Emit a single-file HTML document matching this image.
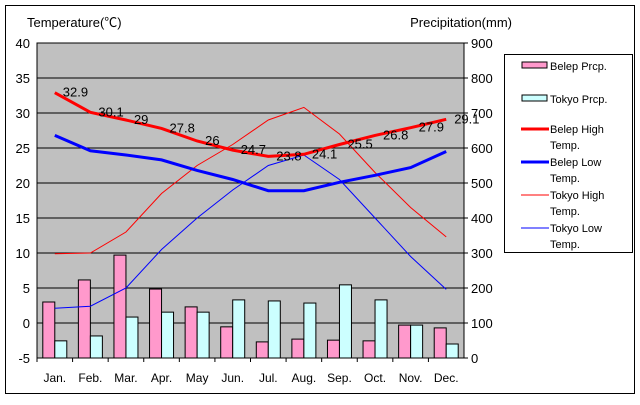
<!DOCTYPE html>
<html><head><meta charset="utf-8"><style>
body{margin:0;background:#fff;}
svg text{font-family:"Liberation Sans","Noto Sans CJK JP",sans-serif;}
</style></head><body>
<svg width="640" height="400" xmlns="http://www.w3.org/2000/svg" id="chart">
<rect x="5.5" y="5.5" width="629" height="388" fill="#fff" stroke="#000"/>
<rect x="37" y="43" width="427" height="315" fill="#c0c0c0" stroke="#000"/>
<text x="27" y="27" font-size="13">Temperature(℃)</text>
<text x="512" y="27" font-size="13" text-anchor="end">Precipitation(mm)</text>
<g id="grid"></g><g id="bars"></g><g id="lines"></g><g id="labels"></g><g id="axes"></g>
<g>
<rect x="504.5" y="54.5" width="128" height="198" fill="#fff" stroke="#000"/>
<rect x="522" y="62" width="25" height="6" fill="#ff99cc" stroke="#000"/>
<text x="550" y="70" font-size="11">Belep Prcp.</text>
<rect x="522" y="95" width="25" height="6" fill="#ccffff" stroke="#000"/>
<text x="550" y="103" font-size="11">Tokyo Prcp.</text>
<line x1="521" y1="129" x2="549" y2="129" stroke="#ff0000" stroke-width="3"/>
<text x="550" y="133" font-size="11"><tspan x="550">Belep High</tspan><tspan x="550" dy="16">Temp.</tspan></text>
<line x1="521" y1="162" x2="549" y2="162" stroke="#0000ff" stroke-width="3"/>
<text x="550" y="166" font-size="11"><tspan x="550">Belep Low</tspan><tspan x="550" dy="16">Temp.</tspan></text>
<line x1="521" y1="195" x2="549" y2="195" stroke="#ff0000" stroke-width="1"/>
<text x="550" y="199" font-size="11"><tspan x="550">Tokyo High</tspan><tspan x="550" dy="16">Temp.</tspan></text>
<line x1="521" y1="228" x2="549" y2="228" stroke="#0000ff" stroke-width="1"/>
<text x="550" y="232" font-size="11"><tspan x="550">Tokyo Low</tspan><tspan x="550" dy="16">Temp.</tspan></text>
</g>
</svg>
<script>
const months=["Jan.","Feb.","Mar.","Apr.","May","Jun.","Jul.","Aug.","Sep.","Oct.","Nov.","Dec."];
const tempTicks=[40,35,30,25,20,15,10,5,0,-5];
const precTicks=[900,800,700,600,500,400,300,200,100,0];
const belepHigh=[32.9,30.1,29,27.8,26,24.7,23.8,24.1,25.5,26.8,27.9,29.1];
const belepLow=[26.8,24.6,24.0,23.3,21.8,20.5,18.9,18.9,20.1,21.1,22.2,24.5];
const tokyoHigh=[9.9,10.0,13.0,18.5,22.5,25.5,29.0,30.8,27.0,21.5,16.5,12.3];
const tokyoLow=[2.1,2.4,5.0,10.5,15.0,19.0,22.5,24.0,20.5,15.0,9.5,4.8];
const belepPrcp=[160,223,294,197,146,89,46,54,51,49,94,86];
const tokyoPrcp=[49,63,117,131,131,166,163,157,209,166,94,40];
const NS="http://www.w3.org/2000/svg";
const X0=37,X1=464,Y0=43,Y1=358,bw=(X1-X0)/12;
const yT=v=>Y1-(v+5)/45*(Y1-Y0);
const yP=v=>Y1-v/900*(Y1-Y0);
const xC=i=>X0+bw*(i+0.5);
function mk(tag,attrs,parent,txt){const e=document.createElementNS(NS,tag);for(const k in attrs)e.setAttribute(k,attrs[k]);if(txt!==undefined)e.textContent=txt;document.getElementById(parent).appendChild(e);return e;}
tempTicks.forEach((t,i)=>{
 const y=yT(t);
 if(t!==40&&t!==-5){const l=mk('line',{x1:X0,x2:X1,y1:y,y2:y,stroke:'#000'},'grid');}
 const a=mk('text',{x:30,y:y+5,'font-size':13,'text-anchor':'end'},'axes',String(t));
 const p=precTicks[i];
 const b=mk('text',{x:471,y:yP(p)+5,'font-size':13},'axes',String(p));
 const m=mk('line',{x1:X1,x2:X1+4,y1:yP(p),y2:yP(p),stroke:'#000'},'axes');
});
months.forEach((m,i)=>{
 const t=mk('text',{x:xC(i),y:382,'font-size':12,'text-anchor':'middle'},'axes',m);
 const k=mk('line',{x1:X0+bw*i,x2:X0+bw*i,y1:Y1,y2:Y1+4,stroke:'#000'},'axes');
 const b1=mk('rect',{x:xC(i)-12,y:yP(belepPrcp[i]),width:12,height:Y1-yP(belepPrcp[i]),fill:'#ff99cc',stroke:'#000'},'bars');
 const b2=mk('rect',{x:xC(i),y:yP(tokyoPrcp[i]),width:12,height:Y1-yP(tokyoPrcp[i]),fill:'#ccffff',stroke:'#000'},'bars');
});
function line(arr,color,w,name){
 const pts=arr.map((v,i)=>xC(i)+','+yT(v)).join(' ');
 const l=mk('polyline',{points:pts,fill:'none',stroke:color,'stroke-width':w},'lines');
 
}
line(tokyoHigh,'#ff0000',1,'line-tokyo-high');
line(tokyoLow,'#0000ff',1,'line-tokyo-low');
line(belepLow,'#0000ff',3,'line-belep-low');
line(belepHigh,'#ff0000',3,'line-belep-high');
belepHigh.forEach((v,i)=>{
 const t=mk('text',{x:xC(i)+8,y:yT(v)+4,'font-size':13},'labels',String(v));
 
});
</script>
</body></html>
